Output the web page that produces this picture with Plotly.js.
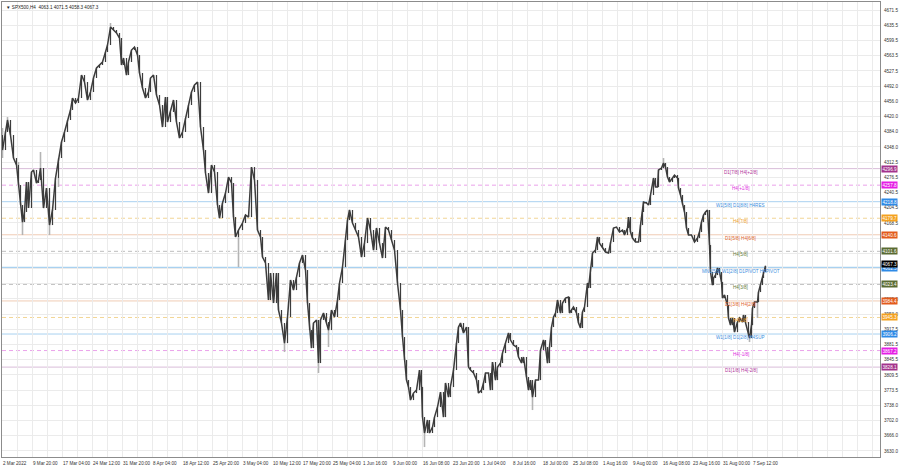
<!DOCTYPE html>
<html><head><meta charset="utf-8">
<script src="https://cdn.plot.ly/plotly-3.0.1.min.js"></script>
<style>html,body{margin:0;padding:0;background:#fff}#chart{width:900px;height:468px}</style>
</head><body><div id="chart"></div>
<script>
// ---- data ----
const symbolTitle = "SPX500,H4  4063.1 4071.5 4058.3 4067.3";
const firstOpen = 4376.2;
const bars = [0,3,5,8,11,14,16,18,20,22,24,26,29,31,34,36,38,41,44,47,50,53,56,59,62,65,68,70,73,76,79,82,85,88,91,94,97,100,103,105,108,111,114,117,119,121,124,126,129,132,135,137,140,143,146,148,151,154,157,160,163,165,168,171,174,177,180,183,186,189,192,195,198,201,203,206,209,212,215,217,220,223,226,229,231,233,236,240,243,246,249,252,255,258,260,263,266,268,271,274,276,279,282,285,288,291,294,297,300,303,305,307,309,311,314,316,318,321,324,326,329,332,335,337,340,343,345,347,350,353,356,359,362,365,368,371,374,377,380,383,386,389,392,395,398,400,402,404,406,408,411,414,417,419,420,422,425,427,430,432,435,438,441,443,446,448,451,454,456,458,461,464,466,468,471,474,476,479,481,483,486,488,490,493,495,498,500,503,506,508,511,514,516,519,521,524,526,528,530,533,536,538,541,543,545,547,549,551,553,555,558,560,563,566,567,569,571,574,576,578,580,582,585,586,588,590,593,595,597,600,603,606,608,611,614,617,620,622,625,626,628,630,633,636,638,640,641,644,646,648,651,653,655,656,659,661,663,665,667,670,672,675,676,678,680,682,684,686,689,692,695,697,699,701,703,705,707,708,710,711,713,715,717,719,720,722,725,726,728,730,732,735,737,740,741,743,746,747,749,750,752,755,756,758,760,761,763];
const closes = [4340.8,4383.3,4411.7,4376.2,4321.9,4305.4,4258.1,4210.9,4170.7,4194.4,4265.2,4203.8,4288.8,4293.6,4262.9,4269.9,4298.3,4203.8,4251.0,4163.6,4199.1,4274.7,4321.9,4359.7,4383.3,4411.7,4435.3,4463.6,4451.8,4463.6,4517.9,4501.4,4458.9,4477.8,4510.9,4534.5,4541.6,4548.7,4572.3,4588.8,4631.3,4624.2,4617.2,4605.3,4541.6,4558.1,4517.9,4548.7,4577.0,4584.1,4565.2,4522.7,4487.2,4463.6,4477.8,4510.9,4517.9,4470.7,4447.1,4395.1,4466.0,4406.9,4430.6,4458.9,4406.9,4369.1,4383.3,4416.4,4447.1,4477.8,4494.3,4501.4,4395.1,4340.8,4286.5,4239.2,4305.4,4288.8,4210.9,4180.2,4215.6,4239.2,4277.0,4262.9,4182.5,4135.3,4151.8,4168.4,4187.3,4182.5,4300.6,4269.9,4151.8,4135.3,4088.1,4073.9,3986.5,4050.3,3979.4,4050.3,3962.9,3932.2,3884.9,3946.3,4033.7,4010.1,4040.8,4073.9,4092.8,4057.4,3979.4,3915.6,3873.1,3932.2,3939.3,3837.7,3939.3,3955.8,3934.5,3915.6,3962.9,3946.3,3986.5,4026.7,4064.4,4128.2,4175.4,4199.1,4168.4,4151.8,4135.3,4088.1,4121.1,4180.2,4151.8,4104.6,4156.6,4121.1,4085.7,4158.9,4151.8,4128.2,4104.6,4026.7,3962.9,3899.1,3844.8,3797.5,3781.0,3750.3,3766.8,3773.9,3821.2,3781.0,3710.1,3672.4,3703.1,3672.4,3686.5,3710.1,3733.8,3769.2,3710.1,3790.5,3757.4,3781.0,3821.2,3884.9,3922.7,3932.2,3908.6,3922.7,3828.2,3821.2,3814.1,3797.5,3766.8,3773.9,3790.5,3814.1,3814.1,3773.9,3840.1,3797.5,3828.2,3837.7,3861.3,3884.9,3908.6,3892.0,3880.2,3875.5,3851.9,3837.7,3851.9,3804.6,3773.9,3797.5,3757.4,3797.5,3797.5,3868.4,3892.0,3875.5,3837.7,3875.5,3922.7,3946.3,3955.8,3986.5,3955.8,3979.4,3991.2,3993.6,3955.8,3962.9,3970.0,3955.8,3932.2,3920.4,3958.2,3970.0,4026.7,4014.9,4064.4,4097.5,4104.6,4135.3,4121.1,4109.3,4099.9,4097.5,4123.5,4156.6,4158.9,4147.1,4151.8,4140.0,4156.6,4182.5,4147.1,4132.9,4123.5,4123.5,4163.6,4194.4,4218.0,4215.6,4210.9,4234.5,4274.7,4253.4,4253.4,4293.6,4298.3,4310.1,4300.6,4277.0,4265.2,4274.7,4281.7,4274.7,4251.0,4234.5,4210.9,4194.4,4156.6,4140.0,4140.0,4123.5,4132.9,4147.1,4170.7,4187.3,4194.4,4199.1,4116.4,4052.6,4021.9,4038.5,4045.5,4062.1,4052.6,4029.0,3991.2,3998.3,3974.7,3944.0,3927.4,3944.0,3910.9,3934.5,3944.0,3934.5,3951.1,3934.5,3903.8,3896.8,3927.4,3967.6,3981.8,3981.8,4005.4,4021.9,4038.5,4052.6,4067.3];
const wickHighBars = [0, 5, 16, 38, 108, 661];
const wickHighs    = [4392.8, 4418.7, 4312.5, 4336.1, 4640.8, 4321.9];
const wickLowBars  = [0, 20, 47, 56, 236, 282, 316, 326, 422, 530, 747, 755];
const wickLows     = [4321.9, 4140.0, 4140.0, 4253.4, 4064.4, 3863.7, 3814.1, 3875.5, 3639.3, 3726.7, 3887.3, 3944.0];

const timeLabels = ["2 Mar 2022","9 Mar 20:00","17 Mar 04:00","24 Mar 12:00","31 Mar 20:00","8 Apr 04:00","18 Apr 12:00","25 Apr 20:00","3 May 04:00","10 May 12:00","17 May 20:00","25 May 04:00","1 Jun 16:00","9 Jun 00:00","16 Jun 08:00","23 Jun 20:00","1 Jul 04:00","8 Jul 16:00","18 Jul 00:00","25 Jul 08:00","1 Aug 16:00","9 Aug 00:00","16 Aug 08:00","23 Aug 16:00","31 Aug 00:00","7 Sep 12:00"];
const priceTicks = [4671.5,4635.5,4599.5,4563.5,4527.5,4492.0,4456.0,4420.0,4384.0,4348.0,4312.5,4276.5,4240.5,4204.5,4168.5,4132.5,4096.5,4060.5,4025.0,3989.0,3953.0,3917.5,3881.5,3845.5,3809.5,3773.5,3738.0,3702.0,3666.0,3630.0];
// price labels hidden under the level tags in the picture
const hiddenPriceTicks = [4132.5, 4096.5, 4060.5, 4025.0];

const levelPrices = [4296.875,4257.8125,4218.75,4179.6875,4140.625,4101.5625,4062.5,4023.4375,3984.375,3945.3125,3906.25,3867.1875,3828.125];
const levelNames = ["D1[7/8] H4[+2/8]","H4[+1/8]","W1[5/8] D1[8/8] H4RES","H4[7/8]","D1[5/8] H4[6/8]","H4[5/8]","MN1[5/8] W1[2/8] D1PIVOT H4PIVOT","H4[3/8]","D1[3/8] H4[2/8]","H4[1/8]","W1[1/8] D1[2/8] H4SUP","H4[-1/8]","D1[1/8] H4[-2/8]"];
const levelTags = ["4296.9","4257.8","4218.8","4179.7","4140.6","4101.6","4062.5","4023.4","3984.4","3945.3","3906.2","3867.2","3828.1"];
const lastPrice = 4067.3;
const lastTag = "4067.3";

// ---- styles ----
const PURPLE = {line:'#d9bdd9', dash:'solid', text:'#b0359a', box:'#a3338c', w:1};
const MAGENTA = {line:'#eaa2ea', dash:'dash', text:'#e02ee0', box:'#e51fe5', w:1};
const BLUE = {line:'#a9d1f0', dash:'solid', text:'#3d8fe0', box:'#2e8ae6', w:1};
const ORANGE = {line:'#f2d595', dash:'dash', text:'#f0a02a', box:'#f4a11f', w:1};
const RUST = {line:'#f0ccb5', dash:'solid', text:'#e0642a', box:'#e25b1c', w:1};
const GRAYD = {line:'#bdbdbd', dash:'dash', text:'#667a3a', box:'#5a6b33', w:1};
const levelStyles = [PURPLE, MAGENTA, BLUE, ORANGE, RUST, GRAYD, Object.assign({}, BLUE, {w:2}), GRAYD, RUST, ORANGE, BLUE, MAGENTA, PURPLE];

const FONT = 'Liberation Sans, Arial, sans-serif';
const FS = 4.6;

// ---- build ----
const n = Math.min(bars.length, closes.length);
const x = [], o = [], c = [], hiW = [], loW = [], hiB = [], loB = [];
for (let i = 0; i < n; i++) {
  const op = i === 0 ? firstOpen : closes[i-1];
  const cl = closes[i];
  let h = Math.max(op, cl), l = Math.min(op, cl);
  const hi = wickHighBars.indexOf(bars[i]); if (hi >= 0) h = Math.max(h, wickHighs[hi]);
  const li = wickLowBars.indexOf(bars[i]); if (li >= 0) l = Math.min(l, wickLows[li]);
  x.push(bars[i]); o.push(op); c.push(cl);
  hiW.push(h); loW.push(l); hiB.push(Math.max(op, cl)); loB.push(Math.min(op, cl));
}

const traces = [
  {type:'ohlc', x:x, open:o, high:hiW, low:loW, close:c, tickwidth:0,
   increasing:{line:{color:'#b4b4b4', width:1.6}}, decreasing:{line:{color:'#b4b4b4', width:1.6}}, hoverinfo:'skip'},
  {type:'scatter', mode:'lines', x:x, y:c, line:{color:'#3c3c3c', width:1.5}, hoverinfo:'skip'},
  {type:'ohlc', x:x, open:o, high:hiB, low:loB, close:c, tickwidth:0,
   increasing:{line:{color:'#3c3c3c', width:1}}, decreasing:{line:{color:'#3c3c3c', width:1}}, hoverinfo:'skip'}
];

const labelStep = 30;
const tickvals = timeLabels.map((t, i) => i * labelStep);
const minorVals = [];
for (let v = 0; v <= 880; v += labelStep / 2) minorVals.push(v);

const shapes = [], annotations = [];
levelPrices.forEach((p, i) => {
  const s = levelStyles[i];
  shapes.push({type:'line', xref:'paper', x0:0, x1:1, yref:'y', y0:p, y1:p, layer:'below',
    line:{color:s.line, width:s.w, dash:s.dash === 'dash' ? '4px,3px' : 'solid'}});
  annotations.push({xref:'x', x:738, yref:'y', y:p, text:levelNames[i], showarrow:false,
    xanchor:'center', yanchor:'top', yshift:1, font:{family:FONT, size:FS, color:s.text}});
  annotations.push({xref:'paper', x:1, xanchor:'left', xshift:1, yref:'y', y:p, yanchor:'middle', text:levelTags[i],
    showarrow:false, bgcolor:s.box, borderpad:0.5, font:{family:FONT, size:FS, color:'#ffffff'}});
});
annotations.push({xref:'paper', x:1, xanchor:'left', xshift:1, yref:'y', y:lastPrice, yanchor:'middle', yshift:1.5, text:lastTag,
  showarrow:false, bgcolor:'#000000', borderpad:0.5, font:{family:FONT, size:FS, color:'#ffffff'}});
annotations.push({xref:'paper', yref:'paper', x:0, y:1, xanchor:'left', yanchor:'top', xshift:2, yshift:-1,
  text:'▼ ' + symbolTitle, showarrow:false, font:{family:FONT, size:FS, color:'#222'}});

const layout = {
  width:900, height:468,
  margin:{l:2, r:20, t:2, b:11, pad:0},
  paper_bgcolor:'#ffffff', plot_bgcolor:'#ffffff',
  showlegend:false,
  font:{family:FONT, size:FS, color:'#333'},
  xaxis:{type:'linear', range:[-0.5, 877.5], tickmode:'array', tickvals:tickvals, ticktext:timeLabels,
    ticklabelposition:'outside right', tickangle:0, automargin:false, ticks:'', ticklen:0, ticklabelstandoff:1,
    showgrid:true, gridcolor:'#ebebeb', gridwidth:1,
    minor:{tickmode:'array', tickvals:minorVals, showgrid:true, gridcolor:'#ebebeb', gridwidth:1},
    zeroline:false, showline:true, linecolor:'#8c8c8c', linewidth:1, mirror:true,
    tickfont:{family:FONT, size:FS, color:'#333'}, rangeslider:{visible:false}, fixedrange:true},
  yaxis:{side:'right', range:[3615.8, 4690.4], tickmode:'array', tickvals:priceTicks,
    ticktext:priceTicks.map(v => hiddenPriceTicks.indexOf(v) >= 0 ? '' : v.toFixed(1)), ticks:'', automargin:false,
    showgrid:true, gridcolor:'#ebebeb', gridwidth:1,
    zeroline:false, showline:true, linecolor:'#8c8c8c', linewidth:1, mirror:true, ticklabelstandoff:2,
    tickfont:{family:FONT, size:FS, color:'#333'}, fixedrange:true},
  shapes:shapes, annotations:annotations
};

Plotly.newPlot('chart', traces, layout, {staticPlot:true, displayModeBar:false});
</script></body></html>
